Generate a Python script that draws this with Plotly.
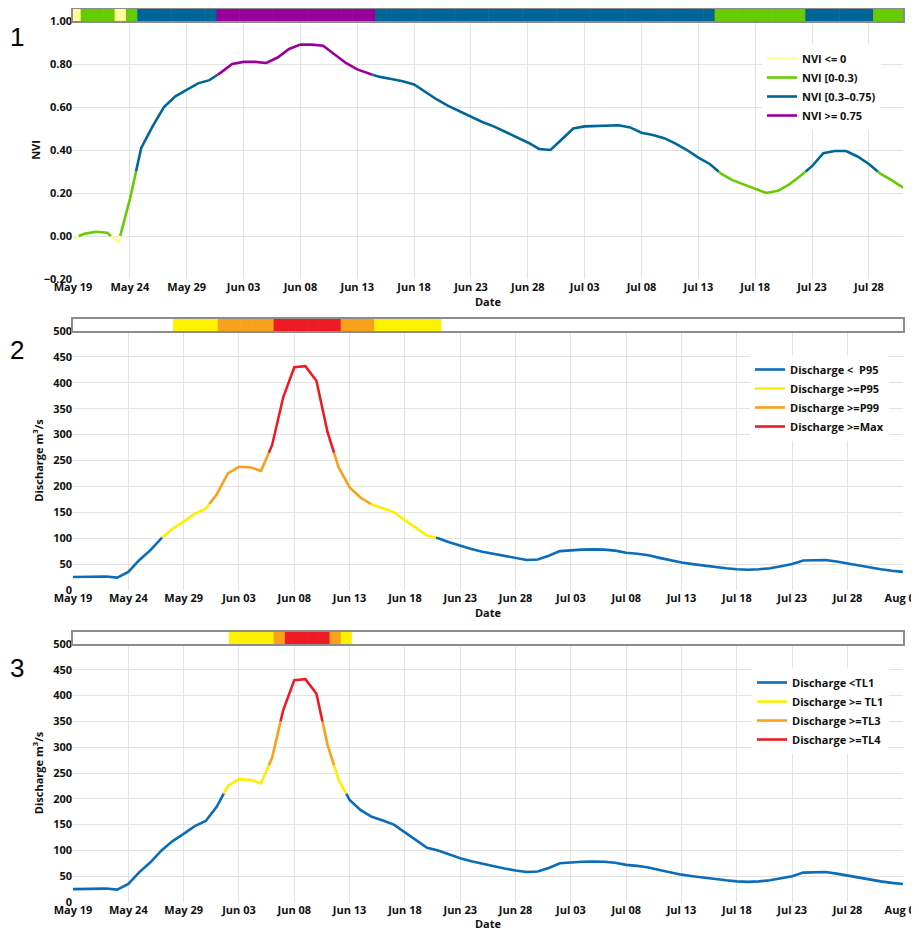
import numpy as np
import pandas as pd
import plotly.graph_objects as go

# ---------------- data ----------------
start_date = "2023-05-19"

nvi_values = [-0.01, 0.01, 0.02, 0.015, -0.03, 0.17, 0.41, 0.51, 0.60, 0.65,
              0.68, 0.71, 0.725, 0.76, 0.80, 0.81, 0.81, 0.805, 0.83, 0.87,
              0.89, 0.89, 0.885, 0.845, 0.805, 0.775, 0.755, 0.74, 0.73, 0.72,
              0.705, 0.67, 0.635, 0.605, 0.58, 0.555, 0.53, 0.51, 0.485, 0.46,
              0.435, 0.405, 0.40, 0.45, 0.50, 0.51, 0.512, 0.515, 0.515, 0.505,
              0.48, 0.47, 0.455, 0.43, 0.40, 0.365, 0.335, 0.29, 0.26, 0.24,
              0.22, 0.20, 0.21, 0.24, 0.28, 0.325, 0.385, 0.395, 0.395, 0.37,
              0.335, 0.29, 0.26, 0.225]

discharge_values = [25, 25.5, 26, 26, 24, 35, 58, 77, 100, 118,
                    132, 147, 157, 185, 225, 238, 237, 230, 280, 372,
                    430, 432, 404, 305, 237, 198, 178, 165, 158, 150,
                    135, 120, 105, 100, 92, 85, 79, 74, 70, 65,
                    61, 58, 59, 66, 75, 77, 78, 78.5, 78, 76,
                    72, 70, 67, 62, 57, 53, 50, 47, 44, 42,
                    40, 39, 40, 42, 46, 50, 57, 58, 58, 55,
                    51, 47, 43.5, 40, 37, 35]

nvi_thresholds = [0.0, 0.3, 0.75]
nvi_names = ["NVI <= 0", "NVI [0-0.3)", "NVI [0.3\u20130.75)", "NVI >= 0.75"]

p_thresholds = [101, 166, 265]          # P95, P99, Max
p_names = ["Discharge <  P95", "Discharge >=P95", "Discharge >=P99", "Discharge >=Max"]

tl_thresholds = [210, 265, 350]         # TL1, TL3, TL4
tl_names = ["Discharge <TL1", "Discharge >= TL1", "Discharge >=TL3", "Discharge >=TL4"]

panel_labels = ["1", "2", "3"]

# ---------------- styles ----------------
nvi_colors = ["#FFFF99", "#66CC00", "#006699", "#990099"]
dis_line_colors = ["#0B6CB8", "#FFEE00", "#F9A11B", "#ED1C24"]
dis_strip_colors = ["#FFFFFF", "#FFF200", "#F9A11B", "#ED1C24"]

FONT = "Open Sans"
DAY_MS = 86400000

nvi_dates = pd.date_range(start_date, periods=len(nvi_values), freq="D")
dis_dates = pd.date_range(start_date, periods=len(discharge_values), freq="D")


def classify(v, thresholds, low_inclusive=False):
    c = 0
    for th in thresholds:
        if low_inclusive and c == 0:
            if v > th:
                c += 1
            continue
        if v >= th:
            c += 1
    return c


def colored_runs(dates, values, thresholds, low_inclusive=False):
    t = (dates.values.astype("datetime64[ms]").astype("int64")).astype(float)
    runs = {c: ([], []) for c in range(len(thresholds) + 1)}

    def flush(c, xs, ys):
        rx, ry = runs[c]
        rx.extend([pd.Timestamp(int(x), unit="ms").isoformat() for x in xs] + [None])
        ry.extend(list(ys) + [None])

    cur_c = classify(values[0], thresholds, low_inclusive)
    cur_x, cur_y = [t[0]], [values[0]]
    for i in range(len(values) - 1):
        t0, t1 = t[i], t[i + 1]
        v0, v1 = values[i], values[i + 1]
        pts = [(0.0, v0)]
        cr = []
        for th in thresholds:
            if (v0 < th < v1) or (v1 < th < v0):
                cr.append(((th - v0) / (v1 - v0), th))
        cr.sort()
        pts += cr + [(1.0, v1)]
        for (fa, va), (fb, vb) in zip(pts[:-1], pts[1:]):
            c = classify((va + vb) / 2, thresholds, low_inclusive)
            xa = t0 + fa * (t1 - t0)
            xb = t0 + fb * (t1 - t0)
            if c != cur_c:
                flush(cur_c, cur_x, cur_y)
                cur_c = c
                cur_x, cur_y = [xa], [va]
            cur_x.append(xb)
            cur_y.append(vb)
    flush(cur_c, cur_x, cur_y)
    return runs


fig = go.Figure()


def add_panel(dates, values, thresholds, names, line_colors, strip_colors,
              xa, ya, xs, ys, legend, low_inclusive=False):
    runs = colored_runs(dates, values, thresholds, low_inclusive)
    for c in range(len(names)):
        rx, ry = runs[c]
        if not rx:
            rx, ry = [None], [None]
        fig.add_trace(go.Scatter(
            x=rx, y=ry, mode="lines", name=names[c],
            line=dict(color=line_colors[c], width=2.6),
            xaxis=xa, yaxis=ya, legend=legend, connectgaps=False,
        ))
    classes = [classify(v, thresholds, low_inclusive) for v in values]
    fig.add_trace(go.Bar(
        x=dates + pd.Timedelta(hours=12), y=[1] * len(values), base=0,
        width=DAY_MS * 1.05,
        marker=dict(color=[strip_colors[c] for c in classes], line=dict(width=0)),
        xaxis=xs, yaxis=ys, showlegend=False, hoverinfo="skip",
    ))


add_panel(nvi_dates, nvi_values, nvi_thresholds, nvi_names, nvi_colors, nvi_colors,
          "x", "y", "x2", "y2", "legend", low_inclusive=True)
add_panel(dis_dates, discharge_values, p_thresholds, p_names, dis_line_colors, dis_strip_colors,
          "x3", "y3", "x4", "y4", "legend2")
add_panel(dis_dates, discharge_values, tl_thresholds, tl_names, dis_line_colors, dis_strip_colors,
          "x5", "y5", "x6", "y6", "legend3")

tickfont = dict(family=FONT, size=11, color="#111111", weight="bold")
titlefont = dict(family=FONT, size=11, color="#111111", weight="bold")
grid = "#E3E3E3"


def main_x(rng, anchor):
    return dict(type="date", range=rng, anchor=anchor, domain=[0, 1],
                tick0=start_date, dtick=5 * DAY_MS, tickformat="%b %d",
                showgrid=True, gridcolor=grid, gridwidth=1, zeroline=False,
                showline=False, ticks="", tickfont=tickfont, ticklabeloverflow="allow",
                title=dict(text="Date", font=titlefont, standoff=2))


def strip_x(rng, anchor):
    return dict(type="date", range=rng, anchor=anchor, domain=[0, 1],
                showticklabels=False, showgrid=False, zeroline=False,
                showline=True, mirror=True, linecolor="#8C8C8C", linewidth=1.5, ticks="")


def strip_y(dom, anchor):
    return dict(range=[0, 1], domain=dom, anchor=anchor, showticklabels=False,
                showgrid=False, zeroline=False, showline=True, mirror=True,
                linecolor="#8C8C8C", linewidth=1.5, ticks="", fixedrange=True)


dis_title = "Discharge m<sup>3</sup>/s"
legend_font = dict(family=FONT, size=11, color="#111111", weight="bold")


def px_x(px):   # reference pixel -> paper x
    return (px - 73) / 830.0


def px_y(py):   # reference pixel -> paper y
    return (902 - py) / 893.0


label_pos = [(17, 37), (17, 350), (17, 668)]
annotations = [
    dict(text=lab, x=px_x(px), y=px_y(py), xref="paper", yref="paper", showarrow=False,
         xanchor="center", yanchor="middle",
         font=dict(family="Liberation Sans", size=26, color="black"))
    for lab, (px, py) in zip(panel_labels, label_pos)
]

fig.update_layout(
    width=919, height=923,
    margin=dict(l=65, r=24, t=1, b=29, autoexpand=False),
    plot_bgcolor="white", paper_bgcolor="white",
    font=dict(family=FONT, size=11, color="#111111"),
    barmode="overlay",
    xaxis=main_x(["2023-05-19", "2023-07-31"], "y"),
    yaxis=dict(domain=[px_y(279), px_y(21)], range=[-0.2, 1.0], dtick=0.2, tickformat=".2f",
               anchor="x", showgrid=True, gridcolor=grid, zeroline=False, showline=False,
               tickfont=tickfont, title=dict(text="NVI", font=titlefont, standoff=0)),
    xaxis2=strip_x(["2023-05-19 07:09", "2023-07-31 14:40"], "y2"),
    yaxis2=strip_y([px_y(21), px_y(9)], "x2"),
    xaxis3=main_x(["2023-05-19", "2023-08-02 00:20"], "y3"),
    yaxis3=dict(domain=[px_y(590), px_y(331)], range=[0, 500], dtick=50,
                anchor="x3", showgrid=True, gridcolor=grid, zeroline=False, showline=False,
                tickfont=tickfont, title=dict(text=dis_title, font=titlefont, standoff=7)),
    xaxis4=strip_x(["2023-05-19 00:23", "2023-08-01 07:12"], "y4"),
    yaxis4=strip_y([px_y(331), px_y(319)], "x4"),
    xaxis5=main_x(["2023-05-19", "2023-08-02 00:20"], "y5"),
    yaxis5=dict(domain=[px_y(902), px_y(644)], range=[0, 500], dtick=50,
                anchor="x5", showgrid=True, gridcolor=grid, zeroline=False, showline=False,
                tickfont=tickfont, title=dict(text=dis_title, font=titlefont, standoff=7)),
    xaxis6=strip_x(["2023-05-19 00:23", "2023-08-01 07:12"], "y6"),
    yaxis6=strip_y([px_y(644), px_y(632)], "x6"),
    legend=dict(x=px_x(762), y=px_y(44), xanchor="left", yanchor="top", bgcolor="white",
                font=legend_font, itemwidth=30, tracegroupgap=0),
    legend2=dict(x=px_x(750), y=px_y(355), xanchor="left", yanchor="top", bgcolor="white",
                 font=legend_font, itemwidth=30, tracegroupgap=0),
    legend3=dict(x=px_x(752), y=px_y(668), xanchor="left", yanchor="top", bgcolor="white",
                 font=legend_font, itemwidth=30, tracegroupgap=0),
    annotations=annotations,
)

fig.write_html("out.html")
